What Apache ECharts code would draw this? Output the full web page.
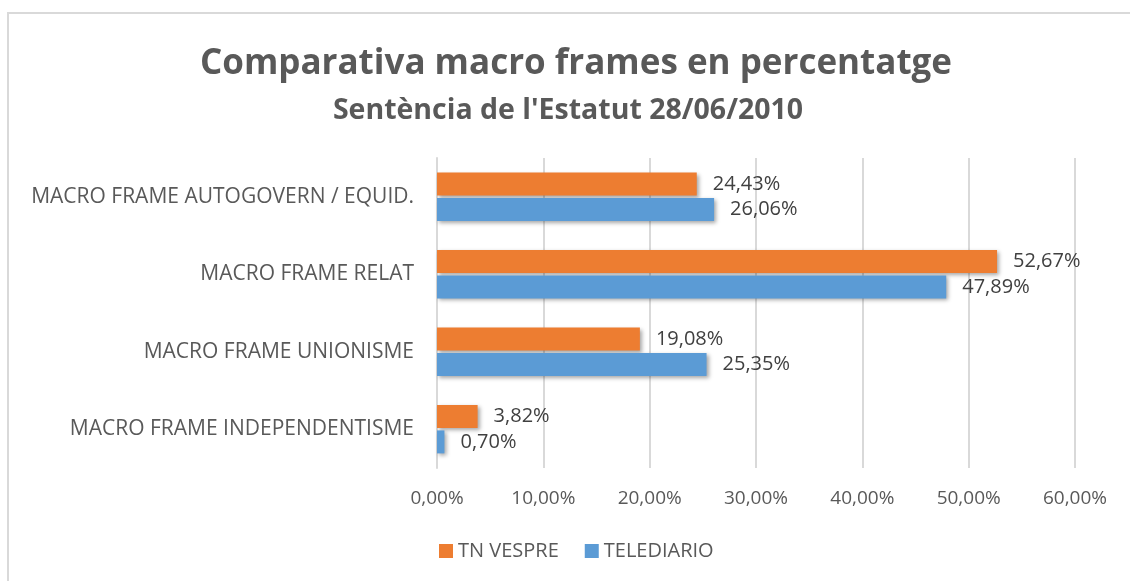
<!DOCTYPE html>
<html>
<head>
<meta charset="utf-8">
<script src="https://cdn.jsdelivr.net/npm/echarts@6/dist/echarts.min.js"></script>
<style>
  html, body { margin: 0; padding: 0; background: #fff; }
  #chart { width: 1130px; height: 581px; }
</style>
</head>
<body>
<div id="chart"></div>
<script>
// categories top to bottom
const categories = [
  'MACRO FRAME AUTOGOVERN / EQUID.',
  'MACRO FRAME RELAT',
  'MACRO FRAME UNIONISME',
  'MACRO FRAME INDEPENDENTISME'
];
const tnVespre = [24.43, 52.67, 19.08, 3.82];
const telediario = [26.06, 47.89, 25.35, 0.70];
const seriesNames = ['TN VESPRE', 'TELEDIARIO'];

const fontFamily = '"Open Sans", Lato, sans-serif';
const pct = v => v.toFixed(2).replace('.', ',') + '%';

const chart = echarts.init(document.getElementById('chart'), null, { renderer: 'canvas' });

const barShadow = {
  shadowColor: 'rgba(0,0,0,0.35)',
  shadowBlur: 4,
  shadowOffsetX: 2,
  shadowOffsetY: 2
};
const labelStyle = {
  show: true,
  position: 'right',
  distance: 16,
  formatter: p => pct(p.value),
  fontSize: 20,
  color: '#404040',
  fontFamily
};

chart.setOption({
  animation: false,
  textStyle: { fontFamily },
  graphic: [{
    type: 'rect',
    shape: { x: 8, y: 13, width: 1140, height: 600 },
    style: { fill: 'none', stroke: '#d9d9d9', lineWidth: 2 },
    silent: true
  }],
  title: [
    {
      text: 'Comparativa macro frames en percentatge',
      left: 571,
      top: 42,
      textAlign: 'center',
      textStyle: { fontSize: 35, fontWeight: 'bold', color: '#595959', fontFamily }
    },
    {
      text: "Sentència de l'Estatut 28/06/2010",
      left: 563,
      top: 91,
      textAlign: 'center',
      textStyle: { fontSize: 28.5, fontWeight: 'bold', color: '#595959', fontFamily }
    }
  ],
  legend: {
    data: seriesNames,
    bottom: 15,
    left: 434,
    itemWidth: 14,
    itemHeight: 14,
    itemGap: 26,
    icon: 'rect',
    textStyle: { fontSize: 20, color: '#595959', fontFamily }
  },
  grid: { left: 437, right: 55, top: 158, bottom: 113, containLabel: false },
  xAxis: {
    type: 'value',
    min: 0,
    max: 60,
    interval: 10,
    axisLine: { show: false },
    axisTick: { show: false },
    splitLine: { lineStyle: { color: '#d9d9d9', width: 2 } },
    axisLabel: { formatter: pct, fontSize: 19, color: '#595959', margin: 21, fontFamily }
  },
  yAxis: {
    type: 'category',
    data: categories,
    inverse: true,
    axisLine: { lineStyle: { color: '#d9d9d9', width: 2 } },
    axisTick: { show: false },
    axisLabel: { fontSize: 21, color: '#595959', margin: 23, fontFamily }
  },
  series: [
    {
      name: seriesNames[0],
      type: 'bar',
      data: tnVespre,
      barWidth: 23,
      barGap: '10%',
      itemStyle: Object.assign({ color: '#ED7D31' }, barShadow),
      label: labelStyle
    },
    {
      name: seriesNames[1],
      type: 'bar',
      data: telediario,
      barWidth: 23,
      barGap: '10%',
      itemStyle: Object.assign({ color: '#5B9BD5' }, barShadow),
      label: labelStyle
    }
  ]
});
</script>
</body>
</html>
